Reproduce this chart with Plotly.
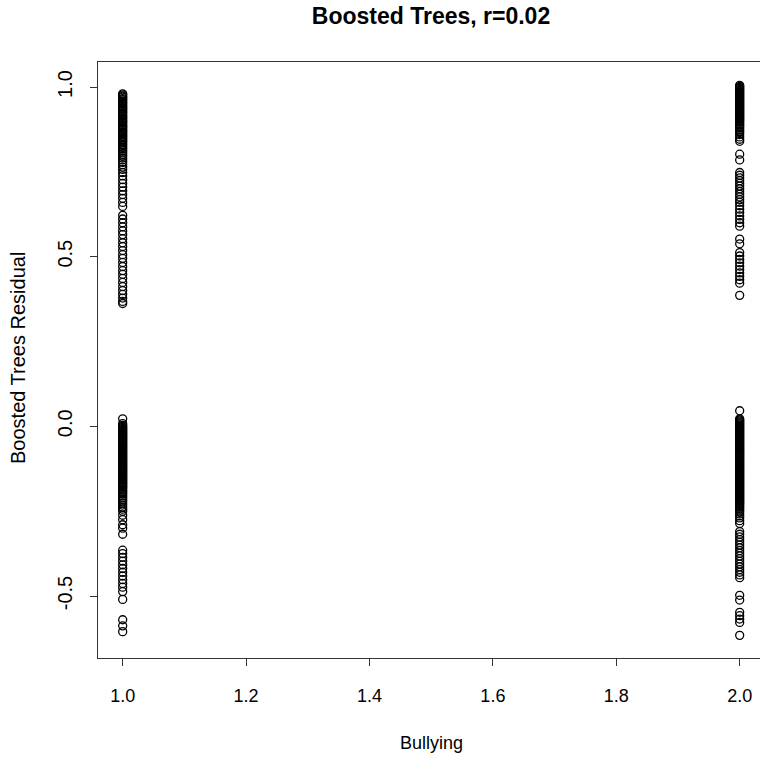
import plotly.graph_objects as go

# Residuals for Bullying = 1
bully1_upper = [0.980, 0.977, 0.973, 0.970, 0.966, 0.963, 0.959, 0.956, 0.952, 0.949, 0.945, 0.942,
                0.938, 0.935, 0.931, 0.928, 0.924, 0.921, 0.917, 0.914, 0.910, 0.907, 0.903, 0.900,
                0.896, 0.893, 0.889, 0.886, 0.882, 0.879, 0.875, 0.872, 0.868, 0.865, 0.861, 0.858,
                0.854, 0.851, 0.847, 0.844, 0.840, 0.836, 0.831, 0.827, 0.822, 0.818, 0.813, 0.808,
                0.802, 0.797, 0.791, 0.785, 0.778, 0.771, 0.764, 0.757,
                0.748, 0.738, 0.727, 0.716, 0.705, 0.694, 0.683, 0.672, 0.660, 0.648,
                0.622, 0.611, 0.600, 0.588, 0.576, 0.565, 0.553, 0.541, 0.530, 0.518, 0.506, 0.495,
                0.483, 0.471, 0.459, 0.448, 0.436, 0.424, 0.412, 0.400, 0.389, 0.378, 0.368, 0.362]
bully1_lower = [0.022, 0.008, 0.003, 0.000, -0.003, -0.006, -0.009, -0.012, -0.015, -0.018, -0.021,
                -0.024, -0.027, -0.030, -0.033, -0.036, -0.039, -0.042, -0.045, -0.048, -0.051,
                -0.054, -0.057, -0.060, -0.063, -0.066, -0.069, -0.072, -0.075, -0.078, -0.081,
                -0.084, -0.087, -0.090, -0.093, -0.096, -0.099, -0.102, -0.105, -0.108, -0.111,
                -0.114, -0.117, -0.120, -0.123, -0.126, -0.129, -0.132, -0.135, -0.138, -0.141,
                -0.144, -0.147, -0.150, -0.153, -0.156, -0.159, -0.162, -0.165, -0.168, -0.171,
                -0.174, -0.177, -0.180, -0.184, -0.188, -0.192, -0.196, -0.200, -0.205, -0.210,
                -0.215, -0.220, -0.226, -0.232, -0.238, -0.244, -0.250,
                -0.262, -0.275, -0.290, -0.300, -0.318,
                -0.365, -0.375, -0.386, -0.397, -0.408, -0.419, -0.430, -0.441, -0.452, -0.463,
                -0.474, -0.487, -0.510, -0.570, -0.588, -0.605]

# Residuals for Bullying = 2
bully2_upper = [1.005, 1.002, 0.999, 0.996, 0.993, 0.990, 0.987, 0.984, 0.981, 0.978, 0.975, 0.972,
                0.969, 0.966, 0.963, 0.960, 0.957, 0.954, 0.951, 0.948, 0.945, 0.942, 0.939, 0.936,
                0.933, 0.930, 0.927, 0.924, 0.921, 0.918, 0.915, 0.912, 0.909, 0.906, 0.903, 0.900,
                0.896, 0.892, 0.888, 0.884, 0.880, 0.875, 0.870, 0.866, 0.860, 0.853, 0.846, 0.840,
                0.802, 0.785,
                0.748, 0.740, 0.732, 0.724, 0.716, 0.708, 0.700, 0.692, 0.684, 0.676, 0.668, 0.660,
                0.650, 0.640, 0.630, 0.620, 0.610, 0.600, 0.590,
                0.552, 0.538,
                0.512, 0.502, 0.492, 0.482, 0.472, 0.462, 0.452, 0.442, 0.432, 0.422, 0.386]
bully2_lower = [0.046, 0.022, 0.019, 0.016, 0.013, 0.010, 0.007, 0.004, 0.001, -0.002, -0.005,
                -0.008, -0.011, -0.014, -0.017, -0.020, -0.023, -0.026, -0.029, -0.032, -0.035,
                -0.038, -0.041, -0.044, -0.047, -0.050, -0.053, -0.056, -0.059, -0.062, -0.065,
                -0.068, -0.071, -0.074, -0.077, -0.080, -0.083, -0.086, -0.089, -0.092, -0.095,
                -0.098, -0.101, -0.104, -0.107, -0.110, -0.113, -0.116, -0.119, -0.122, -0.125,
                -0.128, -0.131, -0.134, -0.137, -0.140, -0.143, -0.146, -0.149, -0.152, -0.155,
                -0.158, -0.161, -0.164, -0.167, -0.170, -0.173, -0.176, -0.179, -0.182, -0.185,
                -0.188, -0.191, -0.194, -0.197, -0.200, -0.203, -0.206, -0.209, -0.212, -0.215,
                -0.218, -0.221, -0.224, -0.227, -0.230, -0.234, -0.238, -0.242, -0.247, -0.252,
                -0.258, -0.264, -0.270, -0.278, -0.286,
                -0.310, -0.318, -0.326, -0.334, -0.342, -0.350, -0.358, -0.366, -0.374, -0.382,
                -0.390, -0.398, -0.406, -0.414, -0.422, -0.430, -0.438, -0.446,
                -0.498, -0.512, -0.548, -0.558, -0.568, -0.578, -0.616]

x_ticks = [1.0, 1.2, 1.4, 1.6, 1.8, 2.0]
x_tick_labels = ["1.0", "1.2", "1.4", "1.6", "1.8", "2.0"]
y_ticks = [-0.5, 0.0, 0.5, 1.0]
y_tick_labels = ["-0.5", "0.0", "0.5", "1.0"]

ys = bully1_upper + bully1_lower + bully2_upper + bully2_lower
xs = [1.0] * (len(bully1_upper) + len(bully1_lower)) + [2.0] * (len(bully2_upper) + len(bully2_lower))

FONT = "Liberation Sans, Arial, Helvetica, sans-serif"

fig = go.Figure()
fig.add_trace(go.Scatter(
    x=xs, y=ys, mode="markers",
    marker=dict(symbol="circle-open", size=8, color="black", line=dict(width=1.3, color="black")),
    showlegend=False, hoverinfo="skip",
))

pa_w, pa_h = 662, 596

fig.update_layout(
    width=760, height=757,
    margin=dict(l=98, r=0, t=62, b=99),
    paper_bgcolor="white", plot_bgcolor="white",
    font=dict(family=FONT, color="black", size=18),
    title=dict(text="<b>Boosted Trees, r=0.02</b>", x=431 / 760, xref="container", xanchor="center",
               y=1 - 16 / 757, yref="container", yanchor="middle",
               font=dict(family=FONT, size=23, color="black")),
    xaxis=dict(range=[0.96, 0.96 + 662 / 617], tickvals=x_ticks, ticktext=x_tick_labels,
               showgrid=False, zeroline=False, showline=True, mirror=True, linecolor="#333333",
               linewidth=1, ticks="outside", ticklen=7, tickcolor="#333333",
               tickfont=dict(size=18, family=FONT), ticklabelstandoff=14),
    yaxis=dict(range=[-0.6827, 1.0737], tickvals=y_ticks, ticktext=y_tick_labels,
               showgrid=False, zeroline=False, showline=True, mirror=False, linecolor="#333333",
               linewidth=1, ticks="outside", ticklen=7, tickcolor="#333333", tickangle=-90,
               tickfont=dict(size=20, family=FONT), ticklabelstandoff=10),
    annotations=[
        dict(text="Bullying", x=(431 - 98) / pa_w, y=-(743 - 658) / pa_h, xref="paper", yref="paper",
             showarrow=False, font=dict(size=18, family=FONT), xanchor="center", yanchor="middle"),
        dict(text="Boosted Trees Residual", x=(18 - 98) / pa_w, y=(658 - 358) / pa_h,
             xref="paper", yref="paper", showarrow=False, font=dict(size=20, family=FONT),
             textangle=-90, xanchor="center", yanchor="middle"),
    ],
)

fig.write_html("out.html")
